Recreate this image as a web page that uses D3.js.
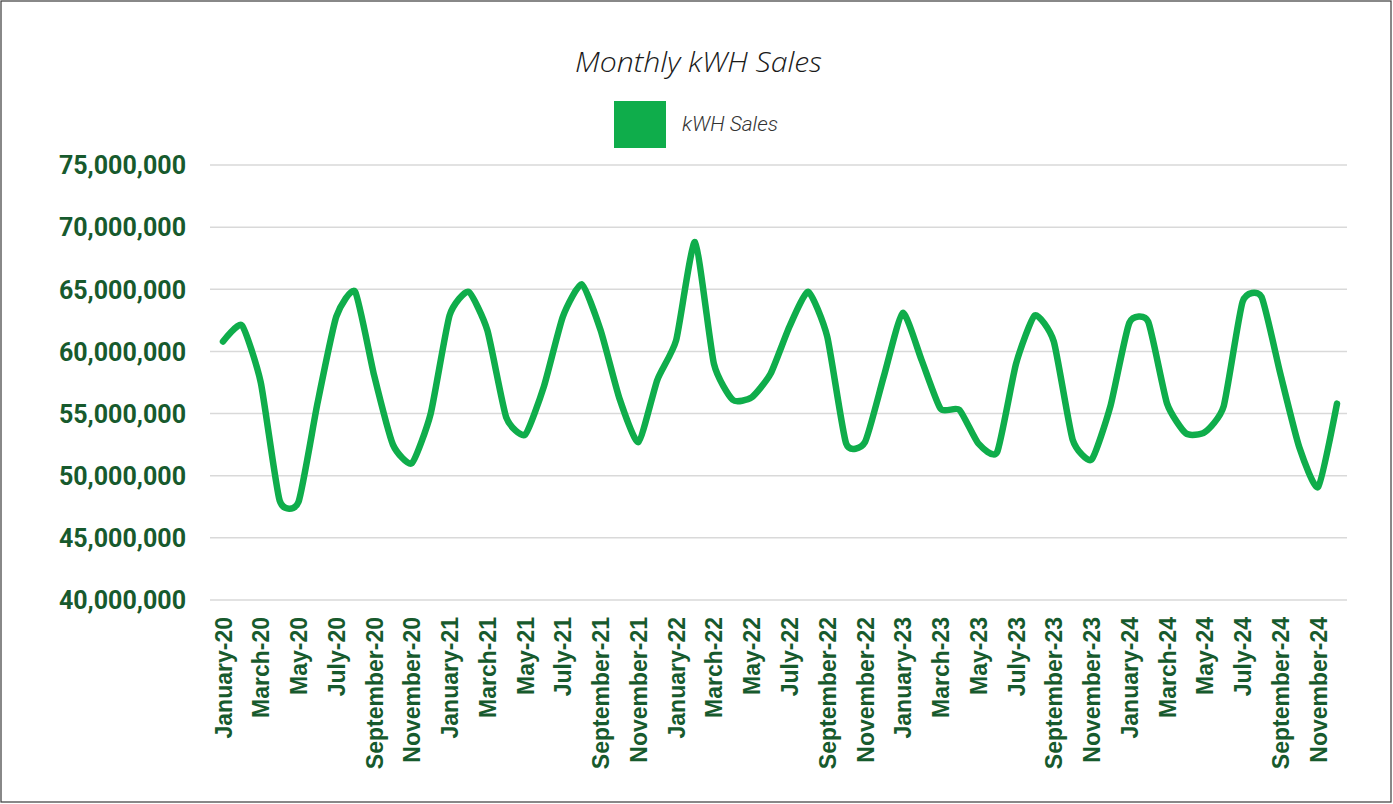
<!DOCTYPE html>
<html>
<head>
<meta charset="utf-8">
<script src="https://cdn.jsdelivr.net/npm/d3@7"></script>
<style>
  html, body { margin: 0; padding: 0; background: #ffffff; }
  svg { display: block; }
</style>
</head>
<body>
<svg id="chart" width="1393" height="804"></svg>
<script>
const chartTitle = "Monthly kWH Sales";
const seriesName = "kWH Sales";

const categories = [
  "January-20","February-20","March-20","April-20","May-20","June-20","July-20","August-20","September-20","October-20","November-20","December-20",
  "January-21","February-21","March-21","April-21","May-21","June-21","July-21","August-21","September-21","October-21","November-21","December-21",
  "January-22","February-22","March-22","April-22","May-22","June-22","July-22","August-22","September-22","October-22","November-22","December-22",
  "January-23","February-23","March-23","April-23","May-23","June-23","July-23","August-23","September-23","October-23","November-23","December-23",
  "January-24","February-24","March-24","April-24","May-24","June-24","July-24","August-24","September-24","October-24","November-24","December-24"
];

const kwhSales = [
  60800000, 62100000, 57500000, 48000000, 47900000, 55800000, 62800000, 64800000, 58100000, 52500000, 51000000, 55000000,
  62900000, 64800000, 61700000, 54700000, 53300000, 57200000, 62800000, 65400000, 61700000, 56200000, 52700000, 57700000,
  60900000, 68800000, 59000000, 56100000, 56300000, 58200000, 62000000, 64800000, 61200000, 52600000, 52700000, 58000000,
  63100000, 59300000, 55400000, 55300000, 52600000, 51900000, 59000000, 62900000, 60800000, 52900000, 51300000, 55600000,
  62300000, 62400000, 55800000, 53400000, 53500000, 55600000, 64000000, 64400000, 58200000, 52300000, 49100000, 55800000
];

const yTicks = [40000000, 45000000, 50000000, 55000000, 60000000, 65000000, 70000000, 75000000];
const xTickLabels = categories.filter((d, i) => i % 2 === 0);

const svg = d3.select("#chart");
const W = 1393, H = 804;

const lineColor = "#0fad4b";
const axisColor = "#175a2d";

// outer border
svg.append("rect")
  .attr("x", 1).attr("y", 1).attr("width", W - 3).attr("height", H - 3)
  .attr("fill", "#ffffff").attr("stroke", "#3a3a3a").attr("stroke-width", 1.2);

const x = d3.scalePoint().domain(categories).range([223, 1337]);
const y = d3.scaleLinear().domain([40000000, 75000000]).range([600, 165]);

// gridlines
svg.append("g").selectAll("line")
  .data(yTicks).join("line")
  .attr("x1", 210).attr("x2", 1347)
  .attr("y1", d => y(d)).attr("y2", d => y(d))
  .attr("stroke", "#d9d9d9").attr("stroke-width", 1.5);

// y axis
const yAxis = d3.axisLeft(y).tickValues(yTicks).tickFormat(d3.format(",")).tickSize(0).tickPadding(0);
const gy = svg.append("g").attr("transform", "translate(186,0)").call(yAxis);
gy.select(".domain").remove();
gy.selectAll("text")
  .attr("fill", axisColor)
  .attr("font-family", "Roboto, 'Liberation Sans', sans-serif")
  .attr("font-weight", "bold")
  .attr("font-size", "25px")
  .attr("dy", "0.35em");

// x axis
const xAxis = d3.axisBottom(x).tickValues(xTickLabels).tickSize(0).tickPadding(0);
const gx = svg.append("g").attr("transform", "translate(0,600)").call(xAxis);
gx.select(".domain").remove();
gx.selectAll("text")
  .attr("fill", axisColor)
  .attr("font-family", "'Liberation Sans', Arial, sans-serif")
  .attr("font-weight", "bold")
  .attr("font-size", "23px")
  .attr("text-anchor", "end")
  .attr("x", 0).attr("y", 0)
  .attr("dy", "0.35em")
  .attr("transform", "translate(0,17) rotate(-90)");

// line
const line = d3.line()
  .x((d, i) => x(categories[i]))
  .y(d => y(d))
  .curve(d3.curveCardinal.tension(0.45));

svg.append("path")
  .datum(kwhSales)
  .attr("d", line)
  .attr("fill", "none")
  .attr("stroke", lineColor)
  .attr("stroke-width", 6.5)
  .attr("stroke-linejoin", "round")
  .attr("stroke-linecap", "round");

// title
svg.append("text")
  .attr("x", 575).attr("y", 72)
  .attr("font-family", "'Open Sans', Roboto, sans-serif")
  .attr("font-style", "italic")
  .attr("font-weight", 300)
  .attr("font-size", "27px")
  .attr("fill", "#1a1a1a")
  .attr("textLength", 247)
  .attr("lengthAdjust", "spacingAndGlyphs")
  .text(chartTitle);

// legend
svg.append("rect")
  .attr("x", 614).attr("y", 101).attr("width", 52).attr("height", 47)
  .attr("fill", lineColor);
svg.append("text")
  .attr("x", 682).attr("y", 130.5)
  .attr("font-family", "Roboto, 'Open Sans', sans-serif")
  .attr("font-style", "italic")
  .attr("font-weight", 300)
  .attr("font-size", "20.5px")
  .attr("fill", "#333333")
  .attr("textLength", 96)
  .attr("lengthAdjust", "spacingAndGlyphs")
  .text(seriesName);
</script>
</body>
</html>
